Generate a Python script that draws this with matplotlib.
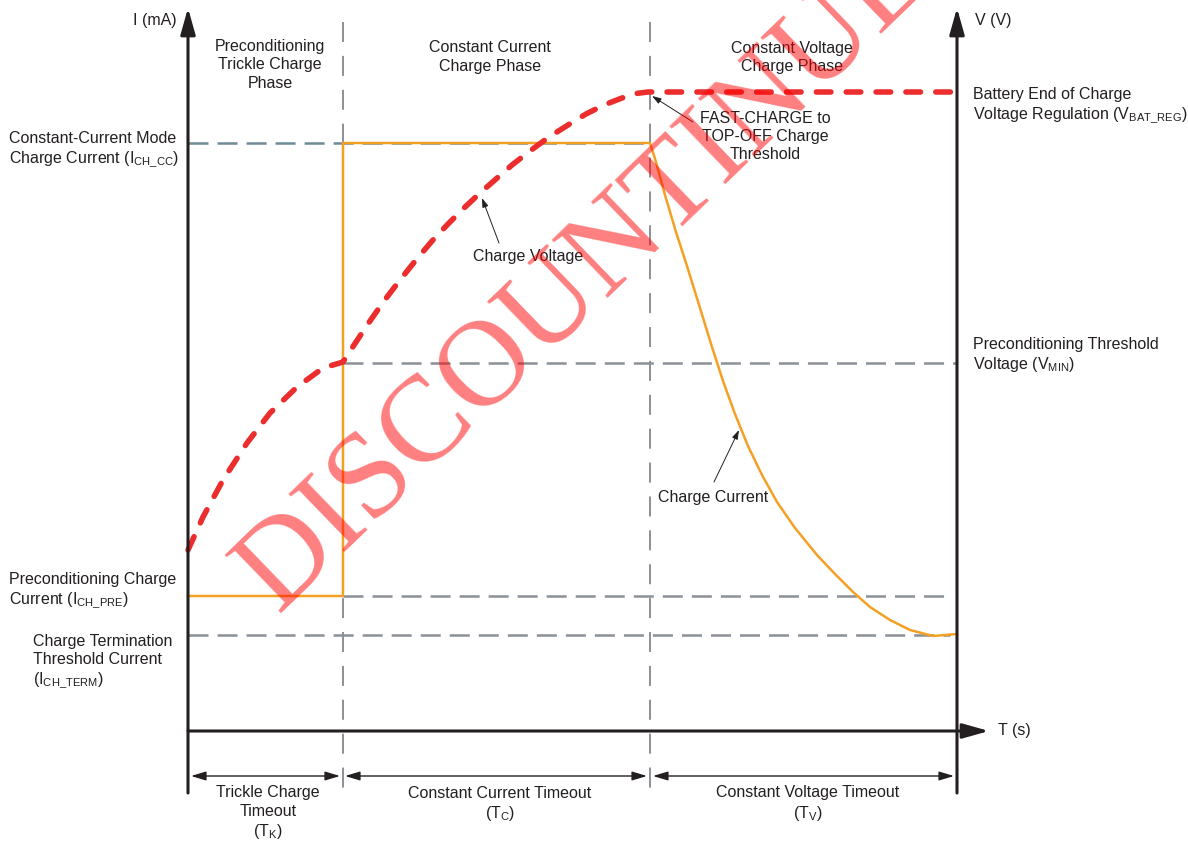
import matplotlib
matplotlib.use('Agg')
import matplotlib.pyplot as plt

plt.rcParams['font.family'] = ['Liberation Sans', 'DejaVu Sans']
plt.rcParams['mathtext.fontset'] = 'custom'
plt.rcParams['mathtext.rm'] = 'Liberation Sans'
plt.rcParams['mathtext.it'] = 'Liberation Sans:italic'
plt.rcParams['mathtext.bf'] = 'Liberation Sans:bold'
plt.rcParams['lines.scale_dashes'] = False

# ---------------- data (schematic units: time, level) ----------------
phase_bounds = [0, 155, 462, 769]          # start, end trickle, end CC, end CV
I_CH_CC = 588
I_CH_PRE = 135
I_CH_TERM = 96
V_BAT_REG = 639
V_MIN = 368

volt_t = [0, 15, 35, 59, 82, 109, 135, 155, 168, 182, 196, 212, 228, 244, 260,
          276, 292, 308, 324, 342, 361, 380, 398, 416, 434, 448, 460, 769]
volt_v = [181, 214, 251, 288, 318, 344, 363, 369, 389, 410, 430, 451, 471, 490,
          507, 523, 538, 552, 566, 580, 594, 606, 617, 626, 633, 637.5, 639, 639]

cv_t = [462, 468, 477, 488, 499, 512, 524, 535, 547, 560, 574, 589, 607, 629,
        647, 665, 682, 702, 722, 745, 769]
cv_i = [588, 569, 536, 499, 465, 423, 384, 350, 317, 285, 256, 229, 203, 176,
        157, 139, 124, 111, 101, 95, 97]

phase_labels = ['Preconditioning\nTrickle Charge\nPhase',
                'Constant Current\nCharge Phase',
                'Constant Voltage\nCharge Phase']
timeout_labels = ['Trickle Charge\nTimeout\n(T$_\\mathregular{K}$)',
                  'Constant Current Timeout\n(T$_\\mathregular{C}$)',
                  'Constant Voltage Timeout\n(T$_\\mathregular{V}$)']
watermark = 'DISCOUNTINUED'

# ---------------- styles ----------------
TXT = '#231F20'
AX = '#231F20'
GRAY = '#8A9096'
GRAY_CC = '#6F8B95'
ORANGE = '#F4A024'
RED = '#EC2D2D'
FS = 11.5

fig = plt.figure(figsize=(11.88, 8.42), dpi=100)
ax = fig.add_axes([0, 0, 1, 1])
ax.set_xlim(-188, 1000)
ax.set_ylim(-111, 731)
ax.axis('off')

t0, t1, t2, t3 = phase_bounds

# vertical phase separators
for tb in (t1, t2):
    ax.plot([tb, tb], [709, -64], color=GRAY, lw=1.4, dashes=(14.4, 10), zorder=1)

# horizontal threshold lines
ax.plot([t0, t2], [I_CH_CC, I_CH_CC], color=GRAY_CC, lw=1.8, dashes=(14.4, 6.5), zorder=1)
ax.plot([t1, t3], [V_MIN, V_MIN], color=GRAY, lw=1.8, dashes=(14.4, 6.5), zorder=1)
ax.plot([t1, 762], [I_CH_PRE, I_CH_PRE], color=GRAY, lw=1.8, dashes=(14.4, 6.5), zorder=1)
ax.plot([t0, 762], [I_CH_TERM, I_CH_TERM], color=GRAY, lw=1.8, dashes=(14.4, 6.5), zorder=1)

# charge current
cur_t = [t0, t1, t1] + cv_t
cur_i = [I_CH_PRE, I_CH_PRE, I_CH_CC] + cv_i
ax.plot(cur_t, cur_i, color=ORANGE, lw=1.8, zorder=3, solid_joinstyle='round')

# charge voltage
ax.plot(volt_t, volt_v, color=RED, lw=4.0, dashes=(10.5, 11), dash_capstyle='round',
        dash_joinstyle='round', zorder=4)

# axes with arrows
def arrow(xy, xytext, style, lw, color=AX, z=5):
    ax.annotate('', xy=xy, xytext=xytext,
                arrowprops=dict(arrowstyle=style, lw=lw, color=color,
                                shrinkA=0, shrinkB=0, mutation_scale=10),
                zorder=z)

arrow((t0, 723), (t0, -62), '-|>,head_length=1.6,head_width=0.45', 2.2)
arrow((t3, 723), (t3, -62), '-|>,head_length=1.6,head_width=0.45', 2.2)
arrow((801, 0), (t0, 0), '-|>,head_length=1.6,head_width=0.45', 2.2)

# timeout brackets
for a, b in ((3, 152), (157, 459), (465, 766)):
    arrow((b, -45), (a, -45), '<|-|>,head_length=0.9,head_width=0.27', 1.0)

# annotation pointers
arrow((464, 635), (505, 609), '-|>,head_length=0.55,head_width=0.18', 0.7)
arrow((294, 533), (311, 488), '-|>,head_length=0.55,head_width=0.18', 0.7)
arrow((551, 301), (526, 249), '-|>,head_length=0.55,head_width=0.18', 0.7)

# ---------------- texts ----------------
def txt(x, y, s, ha='left', va='baseline', **kw):
    ax.text(x, y, s, ha=ha, va=va, fontsize=FS, color=TXT, linespacing=1.25,
            multialignment=ha, zorder=6, **kw)

txt(-11, 711, 'I (mA)', ha='right', va='center')
txt(787, 711, 'V (V)', va='center')
txt(810, 0, 'T (s)', va='center')

txt(82, 666, phase_labels[0], ha='center', va='center')
txt(302, 674, phase_labels[1], ha='center', va='center')
txt(604, 674, phase_labels[2], ha='center', va='center')

txt(-179, 569, 'Constant-Current Mode\nCharge Current (I$_\\mathregular{CH\\_CC}$)')
txt(-179, 128, 'Preconditioning Charge\nCurrent (I$_\\mathregular{CH\\_PRE}$)')
txt(-155, 48, 'Charge Termination\nThreshold Current\n(I$_\\mathregular{CH\\_TERM}$)')
txt(785, 613, 'Battery End of Charge\nVoltage Regulation (V$_\\mathregular{BAT\\_REG}$)')
txt(785, 362, 'Preconditioning Threshold\nVoltage (V$_\\mathregular{MIN}$)')
txt(577, 572, 'FAST-CHARGE to\nTOP-OFF Charge\nThreshold', ha='center')
txt(340, 470, 'Charge Voltage', ha='center')
txt(525, 229, 'Charge Current', ha='center')

txt(80, -105, timeout_labels[0], ha='center')
txt(312, -87, timeout_labels[1], ha='center')
txt(620, -87, timeout_labels[2], ha='center')

# watermark
ax.text(90, 118, watermark, rotation=44, rotation_mode='anchor',
        ha='left', va='baseline', fontsize=88, family='Liberation Serif',
        color='red', alpha=0.5, zorder=10, clip_on=False)

fig.savefig('out.png', dpi=100)
